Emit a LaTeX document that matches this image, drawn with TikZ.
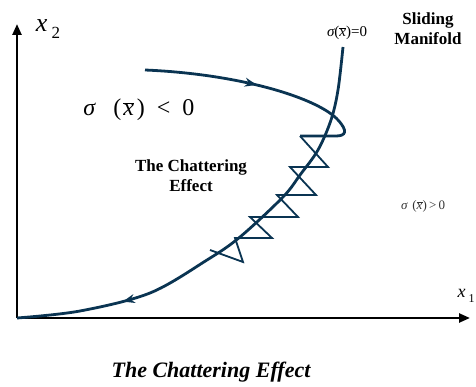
\documentclass[tikz,border=0pt]{standalone}
\usepackage{fontspec}
\setmainfont{Liberation Serif}
\usetikzlibrary{arrows.meta,decorations.markings}

\definecolor{navy}{RGB}{10,52,82}

\newcommand{\xbar}{$\overline{\hbox{\itshape x}}$}

\tikzset{
  axis/.style={line width=2.4pt,-{Triangle[length=11pt,width=9pt]}},
  traj/.style={navy,line width=2.8pt},
  chat/.style={navy,line width=1.8pt,line join=miter},
  boldlabel/.style={font=\fontsize{17}{20}\selectfont\bfseries,align=center},
  midarrow/.style={postaction={decorate},
    decoration={markings,mark=at position #1 with {\arrow{Stealth[length=12pt,width=9pt]}}}}
}

\begin{document}
\begin{tikzpicture}[x=1pt,y=-1pt]
\useasboundingbox (0,0) rectangle (476,387);

% axes
\coordinate (O) at (17,318);
\coordinate (ytip) at (17,24);
\coordinate (xtip) at (470,318);
\draw[axis] (O) -- (ytip);
\draw[axis] (O) -- (xtip);
\node (xtwo) at (48,29) {\fontsize{26}{28}\selectfont\itshape x\,\raisebox{-7pt}{\fontsize{17}{19}\selectfont\upshape 2}};
\node[anchor=west] (xone) at (454,296) {\fontsize{18}{20}\selectfont\itshape x\,\raisebox{-5pt}{\fontsize{12}{14}\selectfont\upshape 1}};

% sliding manifold
\draw[traj,midarrow=0.77] plot[smooth,tension=0.55] coordinates
  {(343,47) (338,90) (331,120) (318,150) (300,175) (283,197) (240,237)
   (207,260) (150,293) (80,311) (17,318)};

% reaching phase
\draw[traj,midarrow=0.43] (145,70) .. controls (240,74) and (318,98) .. (338,120)
  .. controls (348,131) and (346,136) .. (336,136) -- (300,136);

% chattering
\draw[chat] (300,136) -- (328,167) -- (290,167) -- (316,195) -- (277,195)
  -- (298,217) -- (250,217) -- (272,238) -- (235,238) -- (243,262) -- (210,250);

% labels
\node (neg) at (139,110) {\fontsize{24}{26}\selectfont {\itshape σ}\hspace{18pt}(\hspace{2pt}\xbar\hspace{3pt})\hspace{12pt}<\hspace{12pt}0};
\node (zero) at (347,33) {\fontsize{15}{17}\selectfont {\itshape σ}(\xbar)=0};
\node[boldlabel] (slide) at (428,29) {Sliding\\Manifold};
\node[boldlabel] (chatter) at (191,176) {The Chattering\\Effect};
\node[black!80] (pos) at (423,206) {\fontsize{13}{15}\selectfont {\itshape σ}\hspace{5pt}(\xbar)\,>\,0};

\node[font=\fontsize{22}{24}\selectfont\bfseries\itshape] (caption) at (211,372) {The Chattering Effect};
\end{tikzpicture}
\end{document}
